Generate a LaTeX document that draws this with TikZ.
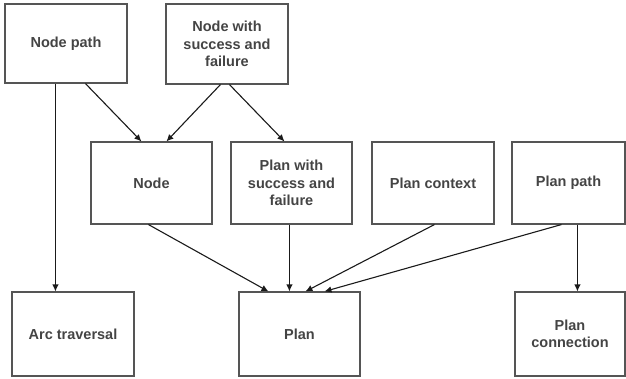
\documentclass[tikz,border=0pt]{standalone}
\usepackage{fontspec}
\setmainfont{Liberation Sans}
\usetikzlibrary{arrows.meta}
\definecolor{boxline}{HTML}{555555}
\definecolor{txt}{HTML}{444444}
\definecolor{conn}{HTML}{1A1A1A}
\tikzset{
  box/.style={draw=boxline, line width=1.1pt, rectangle, align=center, text=txt,
    font=\fontsize{14.5}{17.5}\selectfont\bfseries, inner sep=2pt},
  conn/.style={draw=conn, line width=1.1pt, -{Latex[length=7pt,width=6.5pt]}}
}
\begin{document}
\begin{tikzpicture}[x=1pt,y=1pt]
\useasboundingbox (0,0) rectangle (626,-378);
\node[box, minimum width=122pt, minimum height=79pt] (np) at (66,-43.5) {Node path};
\node[box, minimum width=122pt, minimum height=80pt] (nwsf) at (227,-44) {Node with\\success and\\failure};
\node[box, minimum width=121pt, minimum height=82pt] (node) at (151.5,-183) {Node};
\node[box, minimum width=121pt, minimum height=82pt] (pwsf) at (291.5,-183) {Plan with\\success and\\failure};
\node[box, minimum width=122pt, minimum height=82pt] (pc) at (433,-183) {Plan context};
\node[box, minimum width=113pt, minimum height=82pt] (pp) at (568.5,-183) {Plan path};
\node[box, minimum width=122pt, minimum height=84pt] (arc) at (73,-334) {Arc traversal};
\node[box, minimum width=121pt, minimum height=84pt] (plan) at (299.5,-334) {Plan};
\node[box, minimum width=110pt, minimum height=84pt] (pcon) at (570,-334) {Plan\\connection};
\draw[conn] ([xshift=51pt]np.south west) -- ([xshift=44pt]arc.north west);
\draw[conn] ([xshift=81pt]np.south west) -- ([xshift=51pt]node.north west);
\draw[conn] ([xshift=55pt]nwsf.south west) -- ([xshift=76pt]node.north west);
\draw[conn] ([xshift=64pt]nwsf.south west) -- ([xshift=54pt]pwsf.north west);
\draw[conn] ([xshift=58pt]node.south west) -- ([xshift=30pt]plan.north west);
\draw[conn] ([xshift=59pt]pwsf.south west) -- ([xshift=51pt]plan.north west);
\draw[conn] ([xshift=63pt]pc.south west) -- ([xshift=67pt]plan.north west);
\draw[conn] ([xshift=50pt]pp.south west) -- ([xshift=86pt]plan.north west);
\draw[conn] ([xshift=66pt]pp.south west) -- ([xshift=63pt]pcon.north west);
\end{tikzpicture}
\end{document}
